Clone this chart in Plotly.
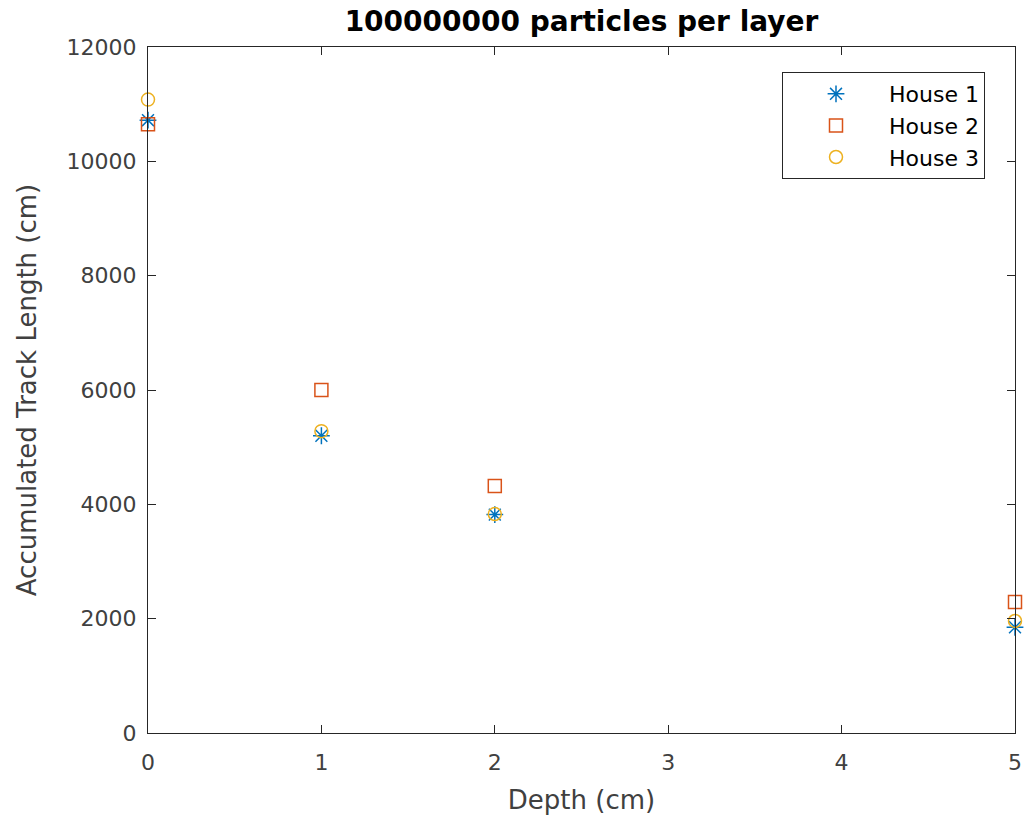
import plotly.graph_objects as go

depth = [0, 1, 2, 5]
house1 = [10720, 5200, 3820, 1850]
house2 = [10650, 6000, 4320, 2290]
house3 = [11080, 5280, 3830, 1960]

names = ["House 1", "House 2", "House 3"]
colors = ["#0072BD", "#D95319", "#EDB120"]
symbols = ["asterisk-open", "square-open", "circle-open"]
series = [house1, house2, house3]

xticks = [0, 1, 2, 3, 4, 5]
yticks = [0, 2000, 4000, 6000, 8000, 10000, 12000]
yticktext = ["0", "2000", "4000", "6000", "8000", "10000", "12000"]

fig = go.Figure()
for n, c, s, v in zip(names, colors, symbols, series):
    fig.add_trace(go.Scatter(
        x=depth, y=v, mode="markers", name=n,
        marker=dict(symbol=s, size=13 if s != "asterisk-open" else 14,
                    color=c, line=dict(color=c, width=1.5)),
        cliponaxis=False,
    ))

axis_common = dict(
    showgrid=False, zeroline=False, showline=True, linecolor="#262626",
    linewidth=1, mirror="ticks", ticks="inside", ticklen=8, automargin=False,
    tickcolor="#262626", tickfont=dict(size=22, color="#404040"),
)

fig.update_layout(
    width=1026, height=820,
    margin=dict(l=148, r=11, t=47, b=87),
    paper_bgcolor="white", plot_bgcolor="white",
    font=dict(family="DejaVu Sans", color="#262626"),
    title=dict(text="<b>100000000 particles per layer</b>", x=(148 + 1015) / 2 / 1026,
               xanchor="center", y=1 - 21 / 820, yanchor="middle",
               font=dict(size=28, color="black")),
    xaxis=dict(range=[0, 5], tickvals=xticks, ticklabelstandoff=10,
               title=dict(text="Depth (cm)", font=dict(size=26, color="#404040"), standoff=16),
               **axis_common),
    yaxis=dict(range=[0, 12000], tickvals=yticks, ticktext=yticktext, ticklabelstandoff=6,
               title=dict(text="Accumulated Track Length (cm)", font=dict(size=26, color="#404040"), standoff=22),
               **axis_common),
    legend=dict(x=(985 - 148) / 867, xanchor="right", y=(733 - 72) / 686, yanchor="top",
                bordercolor="#262626", borderwidth=1, bgcolor="white",
                font=dict(size=22, color="black"), itemwidth=96,
                tracegroupgap=0),
    showlegend=True,
)

fig.write_html("out.html")
